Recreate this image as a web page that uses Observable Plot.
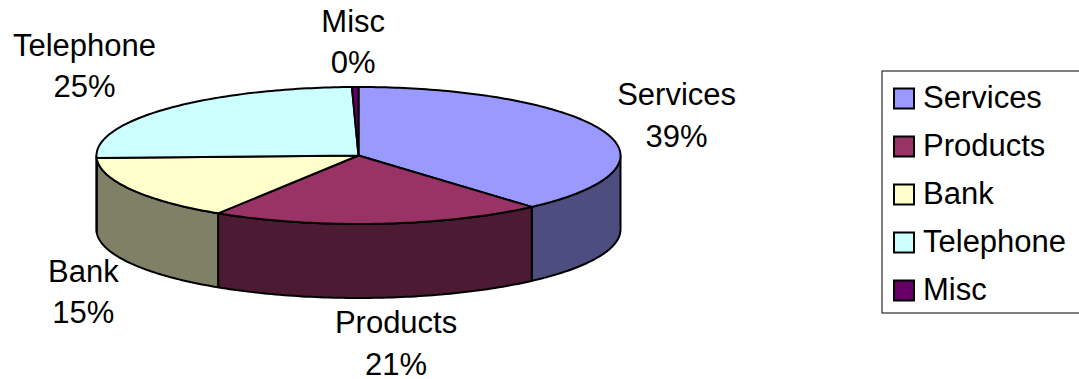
<!DOCTYPE html>
<html>
<head>
<meta charset="utf-8">
<script src="https://cdn.jsdelivr.net/npm/d3@7"></script>
<script src="https://cdn.jsdelivr.net/npm/@observablehq/plot@0.6"></script>
<style>
  html, body { margin: 0; padding: 0; background: #fff; overflow: hidden; }
  svg { display: block; }
</style>
</head>
<body>
<div id="chart"></div>
<script>
// Expense shares, in percent
const categories = ["Services", "Products", "Bank", "Telephone", "Misc"];
const shares = [38.5, 20.5, 15.4, 25.2, 0.4];

// Face and side colours of each slice
const faceColors = ["#9999ff", "#993366", "#ffffcc", "#ccffff", "#660066"];
const sideColors = ["#4d4d80", "#4d1a33", "#808066", "#668080", "#330033"];

// Ellipse of the tilted pie and the height of its rim
const pie = {cx: 358, cy: 155, rx: 262, ry: 68.5, depth: 74};

// Label nudges away from the rim point at each slice's middle angle
const labelNudges = [[73, -18.5], [17, 117], [-48, 99.5], [-83, -45.5], [-2, -48]];

// Legend box layout; its right side runs off the page
const legend = {left: 882, top: 71, right: 1090, bottom: 313, swatchX: 894, swatchSize: 20, textX: 922.5, firstRow: 98.5, rowStep: 48};

const TAU = 2 * Math.PI;
const total = d3.sum(shares);
const cumulative = d3.cumsum(shares);

const slices = categories.map((name, i) => {
  const start = (i === 0 ? 0 : cumulative[i - 1]) / total * TAU;
  const end = cumulative[i] / total * TAU;
  return {name, i, share: shares[i], start, end, mid: (start + end) / 2};
});

// Angle runs clockwise from twelve o'clock
const rimPoint = (angle, drop = 0) => ({
  x: pie.cx + pie.rx * Math.sin(angle),
  y: pie.cy - pie.ry * Math.cos(angle) + drop
});

const arc = (a0, a1, drop = 0) => {
  const steps = Math.max(2, Math.ceil((a1 - a0) / (TAU / 360)));
  return d3.range(steps + 1).map((k) => rimPoint(a0 + (a1 - a0) * k / steps, drop));
};

const facePolygon = (s) => [{x: pie.cx, y: pie.cy}, ...arc(s.start, s.end)];

// Only the part of a slice between three and nine o'clock shows a side wall
const sidePolygon = (s) => {
  const a0 = Math.max(s.start, TAU / 4);
  const a1 = Math.min(s.end, 3 * TAU / 4);
  if (a1 <= a0) return null;
  return [...arc(a0, a1), ...arc(a0, a1, pie.depth).reverse()];
};

const outline = {stroke: "#000", strokeWidth: 2, strokeLinejoin: "round", curve: "linear-closed"};

const sideMarks = slices
  .map((s) => [s, sidePolygon(s)])
  .filter(([, poly]) => poly)
  .map(([s, poly]) => Plot.line(poly, {x: "x", y: "y", fill: sideColors[s.i], ...outline}));

const faceMarks = slices.map((s) =>
  Plot.line(facePolygon(s), {x: "x", y: "y", fill: faceColors[s.i], ...outline})
);

const labels = slices.map((s) => {
  const rim = rimPoint(s.mid);
  return {
    x: rim.x + labelNudges[s.i][0],
    y: rim.y + labelNudges[s.i][1],
    text: `${s.name}\n${Math.round(s.share)}%`
  };
});

const rowY = (d) => legend.firstRow + legend.rowStep * d.i;
const textStyle = {fontFamily: "'Liberation Sans', Arial, sans-serif", fontSize: 31, fill: "#000"};

const chart = Plot.plot({
  width: 1079,
  height: 379,
  margin: 0,
  style: {background: "#fff", overflow: "hidden"},
  x: {domain: [0, 1079], range: [0, 1079], axis: null},
  y: {domain: [0, 379], range: [0, 379], axis: null},
  marks: [
    ...sideMarks,
    ...faceMarks,
    Plot.text(labels, {x: "x", y: "y", text: "text", lineHeight: 1.34, ...textStyle}),
    // Legend frame, swatches and names
    Plot.rect([legend], {x1: "left", x2: "right", y1: "top", y2: "bottom", fill: "#fff", stroke: "#000", strokeWidth: 1}),
    Plot.rect(slices, {
      x1: legend.swatchX,
      x2: legend.swatchX + legend.swatchSize,
      y1: (d) => rowY(d) - legend.swatchSize / 2,
      y2: (d) => rowY(d) + legend.swatchSize / 2,
      fill: (d) => faceColors[d.i],
      stroke: "#000",
      strokeWidth: 2
    }),
    Plot.text(slices, {x: legend.textX, y: (d) => rowY(d) - 0.5, text: "name", textAnchor: "start", ...textStyle})
  ]
});

document.getElementById("chart").append(chart);
</script>
</body>
</html>
